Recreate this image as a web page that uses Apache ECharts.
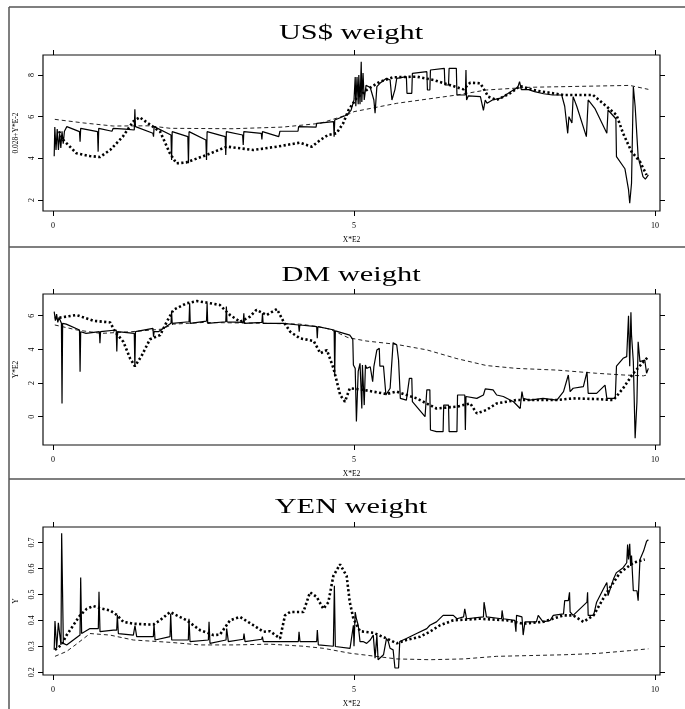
<!DOCTYPE html>
<html><head><meta charset="utf-8">
<script src="https://cdn.jsdelivr.net/npm/echarts@6/dist/echarts.min.js"></script>
<style>html,body{margin:0;padding:0;background:#fff}#c{width:685px;height:709px}</style>
</head><body><div id="c"></div>
<script>
// ---------- data ----------
const panelTitles = ['US$ weight', 'DM weight', 'YEN weight'];
const yNames = ['0.028+Y*E-2', 'Y*E2', 'Y'];
const xName = 'X*E2';
const xTicks = [0, 5, 10];
const usdTicks = [2, 4, 6, 8];
const dmTicks = [0, 2, 4, 6];
const yenTicks = [0.2, 0.3, 0.4, 0.5, 0.6, 0.7];

const usdSolid = [[0.02,4.1],[0.03,5.5],[0.05,4.4],[0.07,5.4],[0.09,4.4],[0.11,5.2],[0.13,4.5],[0.15,5.3],[0.17,4.7],[0.19,5.3],[0.23,5.52],[0.44,5.28],[0.45,4.8],[0.46,5.44],[0.74,5.28],[0.75,4.32],[0.76,5.44],[0.98,5.3],[1.0,5.44],[1.2,5.4],[1.35,5.36],[1.36,6.35],[1.37,5.52],[1.66,5.2],[1.67,5.04],[1.68,5.52],[1.96,5.12],[1.97,3.92],[1.98,5.28],[2.24,5.04],[2.25,3.76],[2.26,5.28],[2.54,4.88],[2.55,3.92],[2.56,5.28],[2.86,5.04],[2.87,4.16],[2.88,5.28],[3.15,5.12],[3.16,4.64],[3.17,5.28],[3.46,5.2],[3.47,4.9],[3.48,5.28],[3.75,5.04],[3.76,4.96],[3.77,5.3],[4.07,5.3],[4.08,5.52],[4.37,5.5],[4.38,5.68],[4.66,5.76],[4.67,5.04],[4.68,5.84],[4.88,6.08],[4.95,6.3],[5.0,6.8],[5.02,7.9],[5.03,6.5],[5.05,7.9],[5.07,6.6],[5.08,8.0],[5.1,6.6],[5.12,8.64],[5.13,6.7],[5.15,8.1],[5.17,6.8],[5.2,7.5],[5.27,7.4],[5.33,6.8],[5.35,6.16],[5.38,7.44],[5.43,7.6],[5.54,7.84],[5.6,7.76],[5.63,6.8],[5.68,7.3],[5.71,7.84],[5.87,7.92],[5.88,7.12],[5.96,7.12],[5.97,8.08],[6.21,8.16],[6.22,7.28],[6.26,7.28],[6.27,8.24],[6.5,8.32],[6.51,7.52],[6.57,7.52],[6.58,8.32],[6.7,8.32],[6.71,7.04],[6.85,7.04],[6.86,8.24],[6.87,6.8],[6.9,7.0],[7.1,6.96],[7.15,6.3],[7.18,6.8],[7.21,6.64],[7.3,6.8],[7.45,6.9],[7.6,7.2],[7.72,7.4],[7.75,7.68],[7.78,7.3],[7.9,7.3],[8.0,7.2],[8.15,7.1],[8.3,7.04],[8.45,7.04],[8.5,6.5],[8.55,5.2],[8.57,6.0],[8.62,5.7],[8.64,6.96],[8.7,6.5],[8.86,5.04],[8.89,6.8],[9.0,6.4],[9.2,5.2],[9.22,6.32],[9.35,5.9],[9.36,4.08],[9.5,3.5],[9.56,2.5],[9.58,1.84],[9.61,2.8],[9.64,7.44],[9.67,6.5],[9.72,4.08],[9.8,3.12],[9.84,3.0],[9.89,3.2]];
const usdDotted = [[0.1,5.3],[0.17,4.88],[0.39,4.24],[0.61,4.11],[0.78,4.06],[0.95,4.4],[1.16,5.04],[1.33,5.76],[1.44,5.97],[1.58,5.68],[1.78,5.28],[1.94,4.25],[2.05,3.76],[2.21,3.8],[2.55,4.16],[2.89,4.56],[3.33,4.4],[3.72,4.56],[4.10,4.75],[4.30,4.56],[4.44,4.88],[4.57,5.12],[4.71,5.2],[4.82,5.68],[4.91,6.32],[5.04,6.88],[5.21,7.28],[5.43,7.68],[5.65,7.89],[6.04,7.92],[6.32,7.76],[6.59,7.52],[6.82,7.31],[6.93,7.63],[7.1,7.6],[7.23,6.96],[7.37,6.8],[7.59,7.12],[7.76,7.47],[8.03,7.25],[8.48,7.04],[8.97,7.04],[9.2,6.48],[9.36,6.08],[9.47,5.2],[9.61,4.32],[9.75,3.84],[9.86,3.2]];
const usdDashed = [[0.03,5.87],[0.5,5.7],[1.0,5.55],[1.6,5.56],[1.95,5.44],[2.99,5.42],[3.82,5.5],[4.44,5.68],[4.88,6.08],[5.0,6.24],[5.71,6.64],[6.71,7.04],[7.2,7.28],[7.92,7.41],[9.03,7.47],[9.58,7.5],[9.89,7.31]];

const dmSolid = [[0.02,6.24],[0.04,5.7],[0.06,6.1],[0.08,5.6],[0.10,5.9],[0.14,5.55],[0.15,0.79],[0.16,5.55],[0.22,5.5],[0.44,5.15],[0.45,2.67],[0.46,5.05],[0.55,4.95],[0.77,5.05],[0.78,4.36],[0.79,5.05],[0.81,5.1],[1.05,5.15],[1.06,3.87],[1.07,5.05],[1.35,4.95],[1.36,2.97],[1.37,5.05],[1.66,5.25],[1.67,4.75],[1.68,5.05],[1.75,5.05],[1.96,5.55],[1.97,6.24],[1.98,5.55],[2.26,5.64],[2.27,6.74],[2.28,5.55],[2.55,5.68],[2.56,6.74],[2.57,5.55],[2.87,5.64],[2.88,6.55],[2.89,5.64],[3.16,5.6],[3.17,6.14],[3.18,5.55],[3.47,5.6],[3.48,6.14],[3.49,5.55],[3.83,5.55],[4.08,5.45],[4.09,5.05],[4.1,5.45],[4.38,5.35],[4.39,4.66],[4.40,5.35],[4.67,5.15],[4.68,2.48],[4.69,5.1],[4.93,4.85],[4.98,4.6],[4.99,3.07],[5.02,2.87],[5.04,-0.29],[5.07,2.7],[5.10,3.17],[5.13,0.49],[5.14,3.07],[5.17,0.69],[5.19,3.07],[5.21,2.87],[5.27,2.97],[5.31,2.08],[5.33,2.97],[5.38,3.97],[5.42,4.06],[5.43,3.0],[5.49,3.0],[5.53,1.29],[5.6,1.69],[5.65,4.4],[5.71,4.26],[5.74,3.37],[5.76,3.37],[5.77,1.09],[5.87,0.99],[5.92,2.28],[5.96,2.28],[5.97,0.89],[6.18,0.0],[6.21,1.6],[6.26,1.6],[6.27,-0.79],[6.37,-0.89],[6.48,-0.89],[6.49,0.69],[6.57,0.69],[6.58,-0.89],[6.71,-0.89],[6.72,1.29],[6.84,1.29],[6.85,-0.79],[6.86,1.2],[7.04,1.09],[7.15,1.29],[7.18,1.65],[7.31,1.6],[7.37,1.29],[7.48,1.2],[7.65,0.89],[7.76,0.49],[7.79,1.49],[7.81,1.09],[7.92,0.99],[8.14,1.09],[8.37,0.99],[8.48,1.49],[8.56,2.48],[8.59,1.49],[8.64,1.69],[8.81,1.79],[8.87,2.67],[8.89,1.39],[9.03,1.39],[9.17,1.88],[9.2,1.09],[9.34,1.09],[9.36,3.0],[9.47,3.47],[9.53,3.57],[9.56,6.0],[9.58,3.0],[9.6,6.2],[9.61,4.85],[9.64,3.27],[9.67,-1.28],[9.70,0.89],[9.72,4.45],[9.75,3.27],[9.78,3.37],[9.83,3.37],[9.86,2.58],[9.89,2.87]];
const dmDotted = [[0.03,5.84],[0.39,6.04],[0.67,5.7],[0.95,5.6],[1.03,5.05],[1.17,4.45],[1.28,3.47],[1.36,3.0],[1.47,3.6],[1.61,4.6],[1.78,4.85],[1.89,5.64],[2.0,6.35],[2.22,6.74],[2.39,6.87],[2.55,6.78],[2.77,6.64],[2.94,6.04],[3.11,5.64],[3.27,5.94],[3.38,6.35],[3.55,6.04],[3.72,6.4],[3.83,5.64],[3.94,5.05],[4.10,4.66],[4.33,4.5],[4.44,3.77],[4.55,3.96],[4.66,2.87],[4.77,1.29],[4.85,0.89],[4.93,1.69],[5.15,1.6],[5.32,1.49],[5.54,1.35],[5.71,1.49],[6.04,1.09],[6.37,0.49],[6.71,0.6],[6.93,0.79],[7.04,0.2],[7.20,0.4],[7.37,0.79],[7.70,0.99],[8.03,0.99],[8.37,0.99],[8.64,1.09],[9.03,1.05],[9.31,0.99],[9.47,1.69],[9.64,2.58],[9.81,3.27],[9.89,3.57]];
const dmDashed = [[0.03,5.45],[0.4,5.15],[0.8,4.95],[1.3,5.05],[1.8,5.2],[2.0,5.5],[2.5,5.6],[3.5,5.55],[4.1,5.5],[4.4,5.35],[4.6,5.2],[4.9,4.7],[5.2,4.5],[5.7,4.3],[6.21,3.97],[6.71,3.45],[7.2,3.04],[7.7,2.87],[8.37,2.77],[9.03,2.58],[9.47,2.48],[9.81,2.43],[9.89,2.5]];

const yenSolid = [[0.02,0.286],[0.033,0.397],[0.061,0.292],[0.089,0.39],[0.117,0.387],[0.133,0.305],[0.144,0.736],[0.161,0.73],[0.172,0.311],[0.227,0.305],[0.449,0.343],[0.46,0.565],[0.476,0.349],[0.615,0.368],[0.753,0.368],[0.764,0.51],[0.781,0.356],[1.003,0.362],[1.058,0.362],[1.069,0.42],[1.086,0.349],[1.335,0.343],[1.362,0.38],[1.39,0.337],[1.667,0.337],[1.678,0.387],[1.695,0.324],[1.944,0.337],[1.955,0.425],[1.972,0.324],[2.248,0.324],[2.259,0.406],[2.276,0.318],[2.581,0.324],[2.592,0.394],[2.608,0.311],[2.874,0.324],[2.885,0.368],[2.913,0.318],[3.162,0.327],[3.173,0.349],[3.19,0.318],[3.467,0.327],[3.478,0.337],[3.494,0.318],[3.771,0.318],[4.076,0.318],[4.087,0.356],[4.103,0.318],[4.38,0.318],[4.391,0.362],[4.408,0.305],[4.657,0.30],[4.674,0.533],[4.69,0.299],[4.934,0.292],[4.96,0.286],[4.99,0.381],[5.0,0.30],[5.02,0.432],[5.04,0.406],[5.07,0.381],[5.10,0.318],[5.15,0.318],[5.21,0.311],[5.27,0.324],[5.32,0.343],[5.35,0.254],[5.38,0.343],[5.40,0.248],[5.43,0.254],[5.49,0.267],[5.54,0.33],[5.57,0.318],[5.60,0.292],[5.65,0.286],[5.68,0.216],[5.74,0.216],[5.76,0.318],[5.87,0.33],[6.04,0.349],[6.21,0.368],[6.26,0.381],[6.37,0.394],[6.48,0.419],[6.65,0.419],[6.71,0.406],[6.82,0.413],[6.84,0.444],[6.87,0.406],[7.15,0.413],[7.16,0.47],[7.20,0.413],[7.45,0.406],[7.46,0.438],[7.48,0.406],[7.67,0.40],[7.69,0.356],[7.70,0.419],[7.79,0.413],[7.81,0.343],[7.84,0.394],[8.03,0.394],[8.06,0.419],[8.14,0.394],[8.26,0.40],[8.31,0.419],[8.48,0.425],[8.50,0.476],[8.56,0.476],[8.58,0.508],[8.59,0.432],[8.64,0.419],[8.87,0.47],[8.88,0.508],[8.89,0.419],[8.98,0.419],[9.03,0.47],[9.14,0.52],[9.20,0.546],[9.22,0.495],[9.31,0.559],[9.36,0.584],[9.47,0.603],[9.53,0.622],[9.545,0.692],[9.56,0.635],[9.58,0.695],[9.595,0.61],[9.61,0.65],[9.64,0.514],[9.67,0.52],[9.70,0.514],[9.72,0.476],[9.75,0.635],[9.81,0.667],[9.83,0.67],[9.86,0.705],[9.89,0.711]];
const yenDotted = [[0.033,0.286],[0.14,0.305],[0.227,0.343],[0.338,0.381],[0.449,0.419],[0.56,0.444],[0.67,0.455],[0.781,0.447],[0.947,0.438],[1.058,0.421],[1.169,0.394],[1.335,0.387],[1.556,0.384],[1.667,0.384],[1.778,0.40],[1.944,0.432],[2.055,0.419],[2.221,0.40],[2.442,0.362],[2.664,0.343],[2.774,0.345],[2.941,0.40],[3.107,0.413],[3.328,0.381],[3.494,0.356],[3.605,0.358],[3.771,0.33],[3.854,0.419],[3.937,0.432],[4.159,0.432],[4.269,0.508],[4.38,0.49],[4.491,0.444],[4.574,0.47],[4.657,0.571],[4.768,0.616],[4.878,0.571],[4.93,0.47],[4.99,0.406],[5.10,0.358],[5.32,0.352],[5.54,0.33],[5.71,0.311],[5.87,0.324],[6.10,0.337],[6.26,0.356],[6.43,0.381],[6.65,0.40],[7.09,0.406],[7.54,0.40],[7.81,0.387],[8.14,0.394],[8.48,0.419],[8.64,0.419],[8.81,0.394],[8.98,0.419],[9.20,0.508],[9.42,0.584],[9.64,0.622],[9.83,0.635]];
const yenDashed = [[0.033,0.261],[0.227,0.28],[0.4,0.31],[0.615,0.349],[0.947,0.343],[1.335,0.324],[1.944,0.315],[2.442,0.305],[3.0,0.305],[3.6,0.308],[4.159,0.30],[4.49,0.292],[4.934,0.273],[5.15,0.267],[5.71,0.251],[6.26,0.248],[6.82,0.251],[7.37,0.261],[7.92,0.264],[8.48,0.267],[9.03,0.272],[9.58,0.283],[9.89,0.29]];

// ---------- layout ----------
const FONT = '"Liberation Serif", "DejaVu Serif", serif';
const boxes = [
  {top: 55, height: 156, ymin: 1.47, ymax: 8.96, ticks: usdTicks},
  {top: 294, height: 151, ymin: -1.68, ymax: 7.29, ticks: dmTicks},
  {top: 527, height: 150, ymin: 0.189, ymax: 0.76, ticks: yenTicks}
];
const seriesSets = [[usdSolid, usdDotted, usdDashed],[dmSolid, dmDotted, dmDashed],[yenSolid, yenDotted, yenDashed]];
const titleY = [33, 275, 507];
const XMIN = -0.166, XMAX = 10.083;

const grid = [], xAxis = [], yAxis = [], series = [];
const tickStyle = {lineStyle: {color: '#000', width: 1}, length: 5};
const noLine = {show: false, onZero: false};
boxes.forEach((b, i) => {
  grid.push({left: 43, width: 617, top: b.top, height: b.height, show: true, borderColor: '#111', borderWidth: 1.2, containLabel: false});
  xAxis.push({gridIndex: i, type: 'value', position: 'bottom', min: XMIN, max: XMAX,
    axisLine: noLine, splitLine: {show: false},
    axisTick: Object.assign({show: true, customValues: xTicks}, tickStyle),
    axisLabel: {customValues: xTicks, fontFamily: FONT, fontSize: 8, color: '#000', margin: 11},
    name: xName, nameLocation: 'middle', nameGap: 25, nameTextStyle: {fontFamily: FONT, fontSize: 7.5, color: '#000'}});
  xAxis.push({gridIndex: i, type: 'value', position: 'top', min: XMIN, max: XMAX,
    axisLine: noLine, splitLine: {show: false},
    axisTick: Object.assign({show: true, customValues: xTicks}, tickStyle),
    axisLabel: {show: false}});
  yAxis.push({gridIndex: i, type: 'value', position: 'left', min: b.ymin, max: b.ymax,
    axisLine: noLine, splitLine: {show: false},
    axisTick: Object.assign({show: true, customValues: b.ticks}, tickStyle),
    axisLabel: {customValues: b.ticks, rotate: 90, fontFamily: FONT, fontSize: 8, color: '#000', margin: 7},
    name: yNames[i], nameLocation: 'middle', nameGap: 18, nameTextStyle: {fontFamily: FONT, fontSize: 7.5, color: '#000'}});
  yAxis.push({gridIndex: i, type: 'value', position: 'right', min: b.ymin, max: b.ymax,
    axisLine: noLine, splitLine: {show: false},
    axisTick: Object.assign({show: true, customValues: b.ticks}, tickStyle),
    axisLabel: {show: false}});
  const [solid, dotted, dashed] = seriesSets[i];
  const common = {type: 'line', xAxisIndex: 2 * i, yAxisIndex: 2 * i, showSymbol: false, symbol: 'none', silent: true, animation: false};
  series.push(Object.assign({data: dashed, lineStyle: {color: '#222', width: 1, type: [4, 3]}, z: 2}, common));
  series.push(Object.assign({data: solid, lineStyle: {color: '#000', width: 1.2}, z: 3}, common));
  series.push(Object.assign({data: dotted, lineStyle: {color: '#000', width: 2.6, type: [2.2, 2.4]}, z: 4}, common));
});

const graphic = [
  {type: 'line', shape: {x1: 9, y1: 7, x2: 685, y2: 7}, style: {stroke: '#555', lineWidth: 1.5}},
  {type: 'line', shape: {x1: 9, y1: 7, x2: 9, y2: 709}, style: {stroke: '#555', lineWidth: 1.5}},
  {type: 'line', shape: {x1: 9, y1: 247, x2: 685, y2: 247}, style: {stroke: '#555', lineWidth: 1.5}},
  {type: 'line', shape: {x1: 9, y1: 479, x2: 685, y2: 479}, style: {stroke: '#555', lineWidth: 1.5}}
];
panelTitles.forEach((t, i) => {
  graphic.push({type: 'text', x: 351, y: titleY[i], scaleX: 1.38, scaleY: 1,
    style: {text: t, font: '22px ' + FONT, fill: '#000', textAlign: 'center', textVerticalAlign: 'middle'}});
});

const chart = echarts.init(document.getElementById('c'), null, {renderer: 'canvas'});
chart.setOption({animation: false, backgroundColor: '#fff', grid, xAxis, yAxis, series, graphic});
</script>
</body></html>
